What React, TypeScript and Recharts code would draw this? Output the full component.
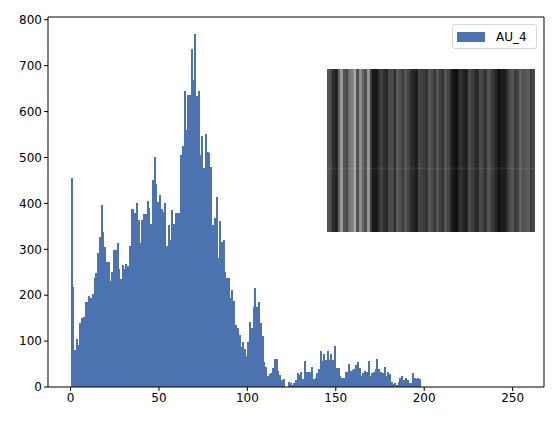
import { BarChart, Bar, Cell, XAxis, YAxis, ReferenceLine, Legend } from "recharts";

const SERIES_NAME = "AU_4";
const BAR_COLOR = "#4c72b0";
const FONT = "'DejaVu Sans', sans-serif";

// histogram counts for bins 0, 1, 2 ...
const COUNTS = [
  456, 218, 81, 104, 91, 139, 151, 153, 186, 186,
  199, 194, 202, 237, 249, 291, 327, 396, 338, 306,
  273, 273, 231, 251, 298, 298, 313, 257, 236, 266,
  258, 267, 263, 307, 387, 387, 380, 400, 363, 313,
  363, 376, 376, 405, 390, 354, 450, 501, 443, 403,
  418, 387, 382, 400, 307, 353, 321, 385, 356, 380,
  380, 378, 505, 524, 644, 559, 635, 635, 736, 668,
  768, 634, 644, 505, 546, 476, 552, 511, 510, 480,
  353, 369, 414, 282, 362, 316, 320, 251, 237, 237,
  194, 211, 188, 135, 129, 113, 88, 99, 82, 68,
  97, 142, 128, 175, 215, 175, 186, 139, 112, 55,
  44, 24, 28, 30, 42, 62, 62, 35, 26, 15,
  17, 1, 1, 10, 8, 4, 9, 15, 30, 26,
  33, 17, 57, 33, 33, 33, 43, 17, 19, 30,
  39, 78, 57, 71, 59, 78, 59, 71, 59, 89,
  42, 42, 24, 19, 20, 33, 33, 50, 35, 38,
  39, 48, 54, 42, 24, 30, 35, 32, 57, 24,
  30, 32, 40, 62, 39, 33, 30, 43, 24, 32,
  28, 10, 6, 9, 4, 10, 20, 24, 15, 19,
  15, 9, 9, 31, 19, 17, 19, 17, 1, 1,
];
const X_TICKS = [0, 50, 100, 150, 200, 250];
const Y_TICKS = [0, 100, 200, 300, 400, 500, 600, 700, 800];
const X_DOMAIN = [-12.75, 267.75];
const Y_DOMAIN = [0, 806];

// grey level of each column of the inset picture
const STRIPES = [
  85, 75, 45, 35, 100, 150, 85, 70, 115, 130, 170, 80, 140, 100, 80, 150, 60, 25, 25, 50,
  65, 45, 38, 75, 72, 45, 90, 75, 58, 85, 68, 45, 40, 28, 72, 65, 58, 50, 85, 72,
  52, 85, 62, 50, 85, 68, 40, 22, 14, 42, 48, 32, 32, 75, 60, 45, 40, 75, 65, 50,
  85, 68, 55, 35, 14, 30, 28, 45, 72, 85, 58, 65, 95, 78, 85, 92, 58, 72,
];

const histData = COUNTS.map((count, i) => ({ bin: i + 0.5, count }));
const stripeData = STRIPES.map((grey, i) => ({ col: i, grey, full: 1 }));

function LegendBox() {
  return (
    <div
      style={{
        width: 85,
        height: 25,
        boxSizing: "border-box",
        border: "1px solid #d5d5d5",
        borderRadius: 3,
        background: "#fff",
        display: "flex",
        alignItems: "center",
        fontFamily: FONT,
        fontSize: 12,
        color: "#000",
      }}
    >
      <span style={{ width: 28, height: 10, marginLeft: 4, background: BAR_COLOR }} />
      <span style={{ marginLeft: 11 }}>{SERIES_NAME}</span>
    </div>
  );
}

function Inset() {
  return (
    <BarChart
      width={208}
      height={163}
      data={stripeData}
      margin={{ top: 0, right: 0, bottom: 0, left: 0 }}
      barCategoryGap={0}
      style={{ position: "absolute", left: 327, top: 69 }}
    >
      <XAxis dataKey="col" hide />
      <YAxis hide domain={[0, 1]} />
      <Bar dataKey="full" isAnimationActive={false} shapeRendering="crispEdges">
        {stripeData.map((s) => (
          <Cell key={s.col} fill={`rgb(${s.grey},${s.grey},${s.grey})`} />
        ))}
      </Bar>
      <ReferenceLine y={0.39} stroke="#fff" strokeOpacity={0.07} strokeWidth={2} />
    </BarChart>
  );
}

export default function App() {
  const tick = { fill: "#000", fontSize: 12, fontFamily: FONT };
  return (
    <div style={{ position: "absolute", left: 0, top: 0, width: 554, height: 423 }}>
      <BarChart
        width={554}
        height={423}
        data={histData}
        margin={{ top: 17, right: 10, bottom: 0, left: 0 }}
        barCategoryGap={0}
        barGap={0}
      >
        <XAxis
          type="number"
          dataKey="bin"
          domain={X_DOMAIN}
          ticks={X_TICKS}
          allowDataOverflow
          tick={tick}
          tickSize={4}
          stroke="#000"
          height={36}
        />
        <YAxis
          domain={Y_DOMAIN}
          ticks={Y_TICKS}
          allowDataOverflow
          tick={tick}
          tickSize={4}
          stroke="#000"
          width={48}
        />
        <Bar
          dataKey="count"
          name={SERIES_NAME}
          fill={BAR_COLOR}
          shapeRendering="crispEdges"
          isAnimationActive={false}
        />
        <ReferenceLine x={X_DOMAIN[1]} stroke="#000" />
        <ReferenceLine y={Y_DOMAIN[1]} stroke="#000" />
        <Legend
          layout="horizontal"
          verticalAlign="middle"
          content={<LegendBox />}
          wrapperStyle={{ position: "absolute", left: 452, top: 24, width: 85, height: 25 }}
        />
      </BarChart>
      <Inset />
    </div>
  );
}
